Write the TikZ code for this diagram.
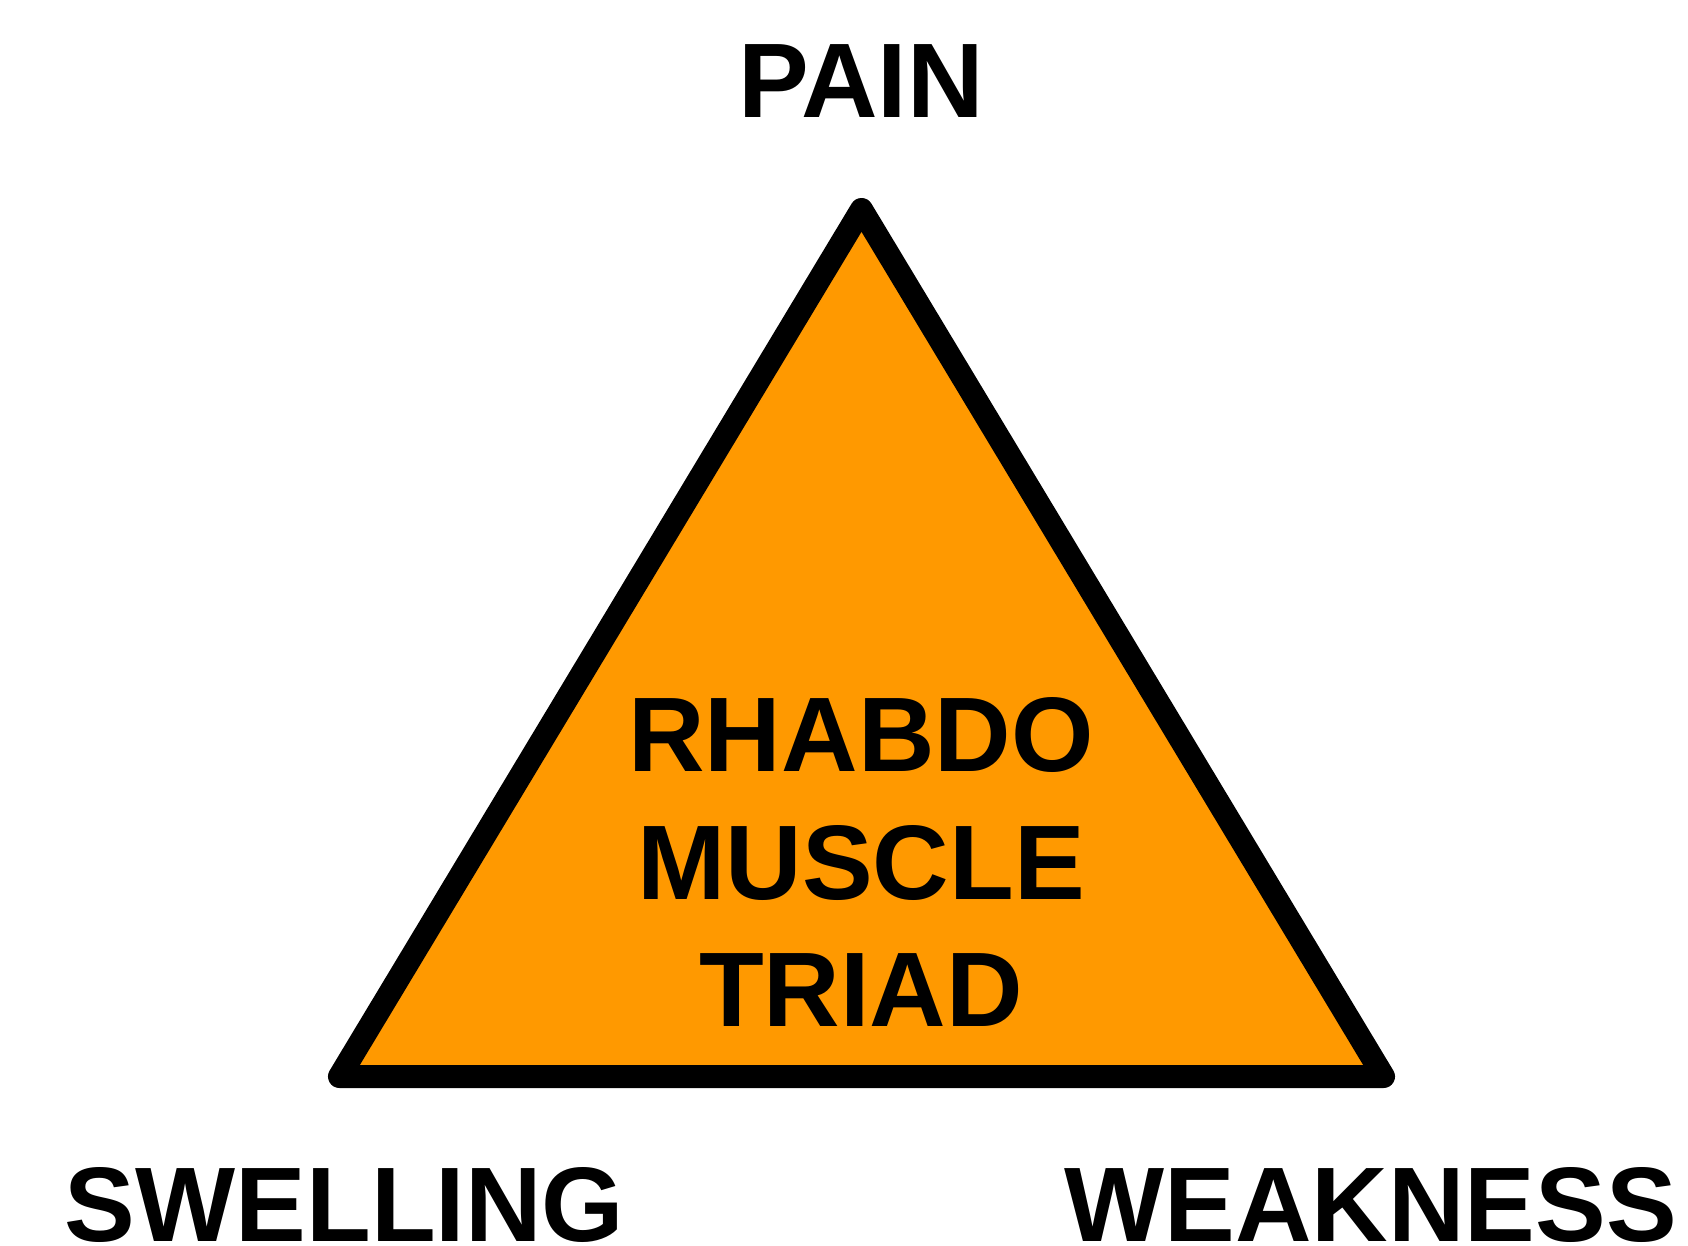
\documentclass[tikz,border=0pt]{standalone}
\usepackage{fontspec}
\setmainfont{Liberation Sans}
\definecolor{tri}{HTML}{FF9900}
\begin{document}
\begin{tikzpicture}[x=1pt,y=-1pt,
  lbl/.style={anchor=base,inner sep=0pt,font=\fontsize{106}{128}\selectfont\bfseries}]
\useasboundingbox (0,0) rectangle (1688,1245);
\coordinate (apex) at (861.5,209.5);
\coordinate (bl) at (339.5,1076.5);
\coordinate (br) at (1383.5,1076.5);
\draw[line width=23pt,line join=round,fill=tri] (apex) -- (br) -- (bl) -- cycle;
\node[lbl] (pain) at (861,117.5) {PAIN};
\node[lbl] (l1) at (861,771) {RHABDO};
\node[lbl] (l2) at (861,899) {MUSCLE};
\node[lbl] (l3) at (861,1026) {TRIAD};
\node[lbl] (sw) at (344.5,1241.5) {SWELLING};
\node[lbl] (wk) at (1370.5,1241.5) {WEAKNESS};
\end{tikzpicture}
\end{document}
